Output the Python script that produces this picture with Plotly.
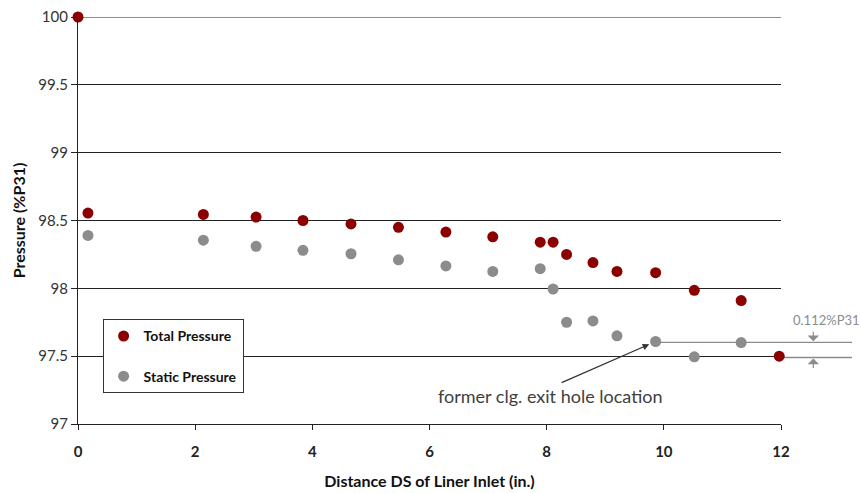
import plotly.graph_objects as go

# ---- data ----
x_total = [0.0, 0.17, 2.14, 3.04, 3.84, 4.66, 5.47, 6.28, 7.08, 7.89, 8.11, 8.34, 8.79, 9.20, 9.86, 10.52, 11.32, 11.97]
y_total = [100.0, 98.555, 98.545, 98.525, 98.50, 98.475, 98.45, 98.415, 98.38, 98.34, 98.34, 98.25, 98.19, 98.125, 98.115, 97.985, 97.91, 97.50]

x_static = [0.17, 2.14, 3.04, 3.84, 4.66, 5.47, 6.28, 7.08, 7.89, 8.11, 8.34, 8.79, 9.20, 9.86, 10.52, 11.32]
y_static = [98.39, 98.355, 98.31, 98.28, 98.255, 98.21, 98.165, 98.125, 98.145, 97.995, 97.75, 97.76, 97.65, 97.608, 97.495, 97.60]

series_names = ["Total Pressure", "Static Pressure"]
x_ticks = [0, 2, 4, 6, 8, 10, 12]
y_ticks = [97, 97.5, 98, 98.5, 99, 99.5, 100]
y_ticktext = ["97", "97.5", "98", "98.5", "99", "99.5", "100"]
x_range = [0, 12]
y_range = [97, 100]

# annotation values
exit_hole_x = 9.86
exit_hole_y = 97.608
note_tail = (8.23, 97.30)
note_pos = (8.06, 97.21)
delta_top = 97.602
delta_bottom = 97.490
delta_label = "0.112%P31"
note_label = "former clg. exit hole location"

FONT = "Lato, 'Open Sans', sans-serif"
RED = "#8B0000"
GREY = "#8C8C8C"


def xpaper(v):
    return (v - x_range[0]) / (x_range[1] - x_range[0])


fig = go.Figure()
fig.add_trace(go.Scatter(
    x=x_total, y=y_total, mode="markers", name=series_names[0],
    legendgroup="a", cliponaxis=False,
    marker=dict(color=RED, size=11, symbol="circle"),
))
fig.add_trace(go.Scatter(
    x=x_static, y=y_static, mode="markers", name=series_names[1],
    legendgroup="b", cliponaxis=False,
    marker=dict(color=GREY, size=11, symbol="circle"),
))

# top gridline (at the top end of the range)
fig.add_shape(type="line", xref="paper", yref="y", x0=0, x1=1,
              y0=y_range[1], y1=y_range[1],
              line=dict(color="#222222", width=1.2), layer="below")

# gray reference lines for the 0.112 % difference
line_end = 1.101
fig.add_shape(type="line", xref="paper", yref="y",
              x0=xpaper(exit_hole_x), x1=line_end, y0=delta_top, y1=delta_top,
              line=dict(color="#8C8C8C", width=1.3), layer="below")
fig.add_shape(type="line", xref="paper", yref="y",
              x0=xpaper(x_range[1]), x1=line_end, y0=delta_bottom, y1=delta_bottom,
              line=dict(color="#8C8C8C", width=1.3), layer="below")

arrow_x = 1.046
fig.add_annotation(xref="paper", yref="y", x=arrow_x, y=delta_top,
                   ax=0, ay=-12, text="",
                   showarrow=True, arrowhead=1, arrowsize=1.6, arrowwidth=1.2,
                   arrowcolor="#8C8C8C", standoff=1)
fig.add_annotation(xref="paper", yref="y", x=arrow_x, y=delta_bottom,
                   ax=0, ay=12, text="",
                   showarrow=True, arrowhead=1, arrowsize=1.6, arrowwidth=1.2,
                   arrowcolor="#8C8C8C", standoff=1)
fig.add_annotation(xref="paper", yref="y", x=1.065, y=delta_top, yshift=22,
                   xanchor="center", yanchor="middle",
                   text=delta_label, showarrow=False,
                   font=dict(family=FONT, size=13, color="#8C8C8C"))

# exit hole note
fig.add_annotation(xref="x", yref="y", x=exit_hole_x, y=exit_hole_y,
                   axref="x", ayref="y", ax=note_tail[0], ay=note_tail[1], text="",
                   showarrow=True, arrowhead=2, arrowsize=1, arrowwidth=1.3,
                   arrowcolor="#333333", standoff=7)
fig.add_annotation(xref="x", yref="y", x=note_pos[0], y=note_pos[1], text=note_label,
                   xanchor="center", showarrow=False,
                   font=dict(family=FONT, size=18, color="#404040"))

fig.update_layout(
    width=861, height=493,
    margin=dict(l=78, r=80, t=17, b=69, pad=0),
    paper_bgcolor="white", plot_bgcolor="white",
    font=dict(family=FONT, color="#222222"),
    showlegend=True,
    legend=dict(
        x=0.035, y=0.257, xanchor="left", yanchor="top",
        bgcolor="white", bordercolor="#333333", borderwidth=1,
        font=dict(family=FONT, size=14, color="#111111", weight="bold"),
        tracegroupgap=19, traceorder="grouped", itemwidth=30,
    ),
    xaxis=dict(
        range=x_range, tickvals=x_ticks, ticktext=[str(v) for v in x_ticks],
        showgrid=False, zeroline=False, automargin=False,
        showline=True, linecolor="#222222", linewidth=1.2,
        ticks="outside", ticklen=5, tickcolor="#222222",
        ticklabelstandoff=9,
        tickfont=dict(family=FONT, size=15, color="#222222", weight="bold"),
        title=dict(text="Distance DS of Liner Inlet (in.)",
                   font=dict(family=FONT, size=16, color="#111111", weight="bold"),
                   standoff=16),
    ),
    yaxis=dict(
        range=y_range, tickvals=y_ticks, ticktext=y_ticktext,
        showgrid=True, gridcolor="#222222", gridwidth=1.2, zeroline=False,
        automargin=False,
        showline=True, linecolor="#222222", linewidth=1.2,
        ticks="outside", ticklen=6, tickcolor="#222222",
        tickfont=dict(family=FONT, size=15, color="#333333"),
        title=dict(text="Pressure (%P31)",
                   font=dict(family=FONT, size=16, color="#111111", weight="bold"),
                   standoff=8),
    ),
)

fig.write_html("out.html")
